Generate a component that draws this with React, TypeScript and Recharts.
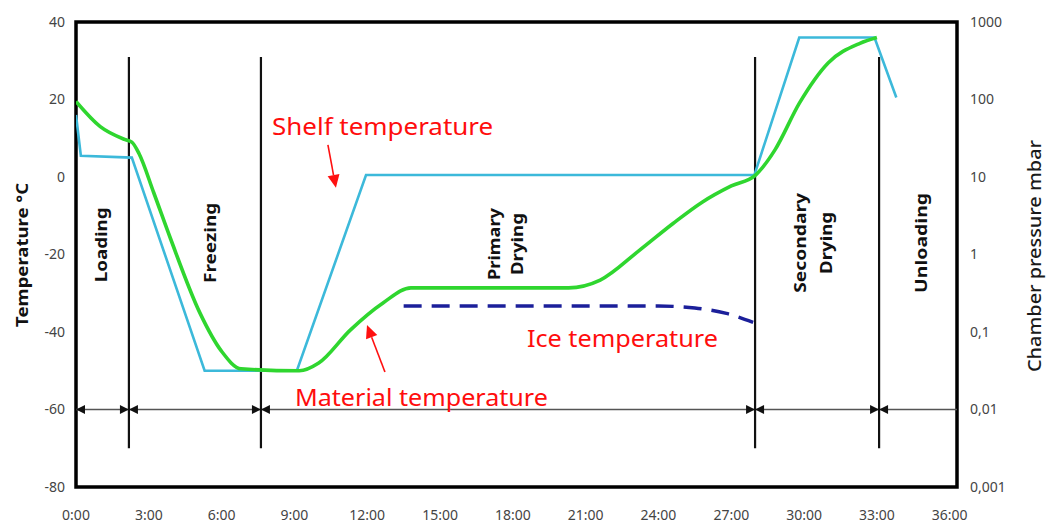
import React from 'react';
import {
  LineChart,
  Line,
  XAxis,
  YAxis,
  ReferenceLine,
  ReferenceArea,
  ReferenceDot,
} from 'recharts';

// time in hours, temperature in °C
const SHELF_TEMP: [number, number][] = [
  [0, 16], [0.2, 5.5], [2.3, 5], [5.3, -50], [9.1, -50], [11.95, 0.5],
  [27.95, 0.5], [29.8, 36], [32.9, 36], [33.8, 20.5],
];

const MATERIAL_TEMP: [number, number][] = [
  [0, 19.5], [1, 13], [2, 9.7], [2.3, 9], [2.6, 6], [3.2, -4], [3.9, -16],
  [5.1, -35], [6, -45], [6.8, -49.5], [9.2, -50], [10, -48], [11.3, -39.5],
  [12.65, -32.5], [13.8, -28.6], [20.3, -28.6], [21.6, -26.6], [23.2, -19],
  [24.6, -12], [25.8, -6.5], [27, -2.3], [28, 0.5], [28.8, 7], [29.8, 19],
  [31, 29.5], [32.3, 34.5], [33, 36],
];

const ICE_TEMP: [number, number][] = [
  [13.5, -33.3], [20, -33.3], [24, -33.3], [25.5, -33.8], [26.8, -35.2], [27.9, -37.5],
];

// phase boundaries (hours)
const PHASE_BOUNDS = [2.18, 7.62, 27.98, 33.09];
const PHASE_EDGES = [0, 2.18, 7.62, 27.98, 33.09];

const TIME_TICKS = [0, 3, 6, 9, 12, 15, 18, 21, 24, 27, 30, 33, 36];
const TEMP_TICKS = [-80, -60, -40, -20, 0, 20, 40];
const PRESSURE_TICKS = [0.001, 0.01, 0.1, 1, 10, 100, 1000];

const toPoints = (arr: [number, number][]) => arr.map(([t, v]) => ({ t, v }));

const PHASE_LABELS = [
  { t: 0.99, y: -17.5, lines: ['Loading'], len: [75], gap: 0 },
  { t: 5.52, y: -17, lines: ['Freezing'], len: [80], gap: 0 },
  { t: 17.68, y: -17.3, lines: ['Primary', 'Drying'], len: [72, 62], gap: 23 },
  { t: 30.33, y: -17, lines: ['Secondary', 'Drying'], len: [100, 62], gap: 26 },
  { t: 34.78, y: -17, lines: ['Unloading'], len: [100], gap: 0 },
];

const RED_LABELS = [
  { t: 8.08, y: 10.8, text: 'Shelf temperature', len: 221 },
  { t: 18.58, y: -43.9, text: 'Ice temperature', len: 191 },
  { t: 9.02, y: -59.1, text: 'Material temperature', len: 253 },
];

const RED_ARROWS = [
  { from: { x: 10.38, y: 8.3 }, to: { x: 10.71, y: -2.8 } },
  { from: { x: 12.73, y: -50.3 }, to: { x: 11.99, y: -38.2 } },
];

const FONT = '"Noto Sans", "Open Sans", sans-serif';
const CYAN = '#3cb9da';
const GREEN = '#2fd62f';
const NAVY = '#1b1f9a';

const fmtTime = (v: number) => `${v}:00`;
const fmtPressure = (v: number) => String(v).replace('.', ',');

function RotatedText(props: any) {
  const { cx, cy, lines, len, gap, size, weight, fill } = props;
  const n = lines.length;
  return (
    <g transform={`translate(${cx},${cy}) rotate(-90)`}>
      {lines.map((s: string, i: number) => (
        <text
          key={i}
          x={0}
          y={(i - (n - 1) / 2) * gap}
          textAnchor="middle"
          dominantBaseline="central"
          textLength={len[i]}
          lengthAdjust="spacingAndGlyphs"
          fontFamily={FONT}
          fontSize={size}
          fontWeight={weight}
          fill={fill}
        >
          {s}
        </text>
      ))}
    </g>
  );
}

function ArrowHead({ cx, cy, dir }: any) {
  const w = 9;
  const h = 4.5;
  const pts =
    dir === 'right'
      ? `${cx},${cy} ${cx - w},${cy - h} ${cx - w},${cy + h}`
      : `${cx},${cy} ${cx + w},${cy - h} ${cx + w},${cy + h}`;
  return <polygon points={pts} fill="#111" />;
}

function RedArrow(props: any) {
  const { x1, y1, x2, y2 } = props;
  const dx = x2 - x1;
  const dy = y2 - y1;
  const l = Math.sqrt(dx * dx + dy * dy);
  const ux = dx / l;
  const uy = dy / l;
  const hl = 13;
  const hw = 6;
  const bx = x2 - ux * hl;
  const by = y2 - uy * hl;
  return (
    <g>
      <line x1={x1} y1={y1} x2={bx} y2={by} stroke="#ff1010" strokeWidth={1.6} />
      <polygon
        points={`${x2},${y2} ${bx - uy * hw},${by + ux * hw} ${bx + uy * hw},${by - ux * hw}`}
        fill="#ff1010"
      />
    </g>
  );
}

export default function App() {
  const tickStyle = { fontSize: 14, fill: '#444', fontFamily: FONT };
  const arrowHeads: { t: number; dir: string }[] = [];
  PHASE_EDGES.forEach((e, i) => {
    arrowHeads.push({ t: e, dir: 'left' });
    if (i > 0) arrowHeads.push({ t: e, dir: 'right' });
  });

  return (
    <div style={{ position: 'absolute', left: 0, top: 0, background: '#fff' }}>
      <LineChart
        width={1050}
        height={525}
        margin={{ top: 22, right: 0, bottom: 0, left: 0 }}
      >
        <XAxis
          dataKey="t"
          type="number"
          domain={[0, 36.3]}
          ticks={TIME_TICKS}
          tickFormatter={fmtTime}
          axisLine={false}
          tickLine={false}
          tickMargin={17}
          height={38}
          tick={tickStyle}
          allowDataOverflow
        />
        <YAxis
          type="number"
          domain={[-80, 40]}
          ticks={TEMP_TICKS}
          axisLine={false}
          tickLine={false}
          tickMargin={5}
          width={76}
          tick={tickStyle}
          allowDataOverflow
        />
        <YAxis
          yAxisId="p"
          orientation="right"
          scale="log"
          type="number"
          domain={[0.001, 1000]}
          ticks={PRESSURE_TICKS}
          tickFormatter={fmtPressure}
          axisLine={false}
          tickLine={false}
          tickMargin={7}
          width={93}
          tick={tickStyle}
          allowDataOverflow
        />

        <ReferenceLine y={-60} stroke="#555" strokeWidth={1.4} />
        {arrowHeads.map((a, i) => (
          <ReferenceDot
            key={`ah${i}`}
            x={a.t}
            y={-60}
            r={0}
            shape={(p: any) => <ArrowHead cx={p.cx} cy={p.cy} dir={a.dir} />}
          />
        ))}
        {PHASE_BOUNDS.map((b) => (
          <ReferenceLine
            key={`pb${b}`}
            segment={[{ x: b, y: 31 }, { x: b, y: -70 }]}
            stroke="#111"
            strokeWidth={2.2}
          />
        ))}

        <Line
          data={toPoints(SHELF_TEMP)}
          dataKey="v"
          type="linear"
          stroke={CYAN}
          strokeWidth={2.6}
          dot={false}
          activeDot={false}
          isAnimationActive={false}
        />
        <Line
          data={toPoints(MATERIAL_TEMP)}
          dataKey="v"
          type="monotone"
          stroke={GREEN}
          strokeWidth={3.6}
          dot={false}
          activeDot={false}
          isAnimationActive={false}
        />
        <Line
          data={toPoints(ICE_TEMP)}
          dataKey="v"
          type="monotone"
          stroke={NAVY}
          strokeWidth={3.4}
          strokeDasharray="18 10"
          dot={false}
          activeDot={false}
          isAnimationActive={false}
        />

        <ReferenceArea
          x1={0}
          x2={36.3}
          y1={-80}
          y2={40}
          fill="none"
          fillOpacity={0}
          stroke="#000"
          strokeWidth={3.5}
        />

        {PHASE_LABELS.map((l, i) => (
          <ReferenceDot
            key={`pl${i}`}
            x={l.t}
            y={l.y}
            r={0}
            shape={(p: any) => (
              <RotatedText
                cx={p.cx}
                cy={p.cy}
                lines={l.lines}
                len={l.len}
                gap={l.gap}
                size={16.5}
                weight={700}
                fill="#111"
              />
            )}
          />
        ))}

        {RED_LABELS.map((l, i) => (
          <ReferenceDot
            key={`rl${i}`}
            x={l.t}
            y={l.y}
            r={0}
            shape={(p: any) => (
              <text
                x={p.cx}
                y={p.cy}
                fontFamily={FONT}
                fontSize={23}
                fill="#ff0d0d"
                textLength={l.len}
                lengthAdjust="spacingAndGlyphs"
              >
                {l.text}
              </text>
            )}
          />
        ))}

        {RED_ARROWS.map((a, i) => (
          <ReferenceLine
            key={`ra${i}`}
            segment={[a.from, a.to]}
            shape={(p: any) => <RedArrow {...p} />}
          />
        ))}

        <ReferenceDot
          x={-2.22}
          y={-20.1}
          r={0}
          ifOverflow="visible"
          shape={(p: any) => (
            <RotatedText
              cx={p.cx}
              cy={p.cy}
              lines={['Temperature °C']}
              len={[144]}
              gap={0}
              size={16}
              weight={700}
              fill="#111"
            />
          )}
        />
        <ReferenceDot
          x={39.47}
          y={-20.4}
          r={0}
          ifOverflow="visible"
          shape={(p: any) => (
            <RotatedText
              cx={p.cx}
              cy={p.cy}
              lines={['Chamber pressure mbar']}
              len={[232]}
              gap={0}
              size={17.5}
              weight={500}
              fill="#1a1a1a"
            />
          )}
        />
      </LineChart>
    </div>
  );
}
